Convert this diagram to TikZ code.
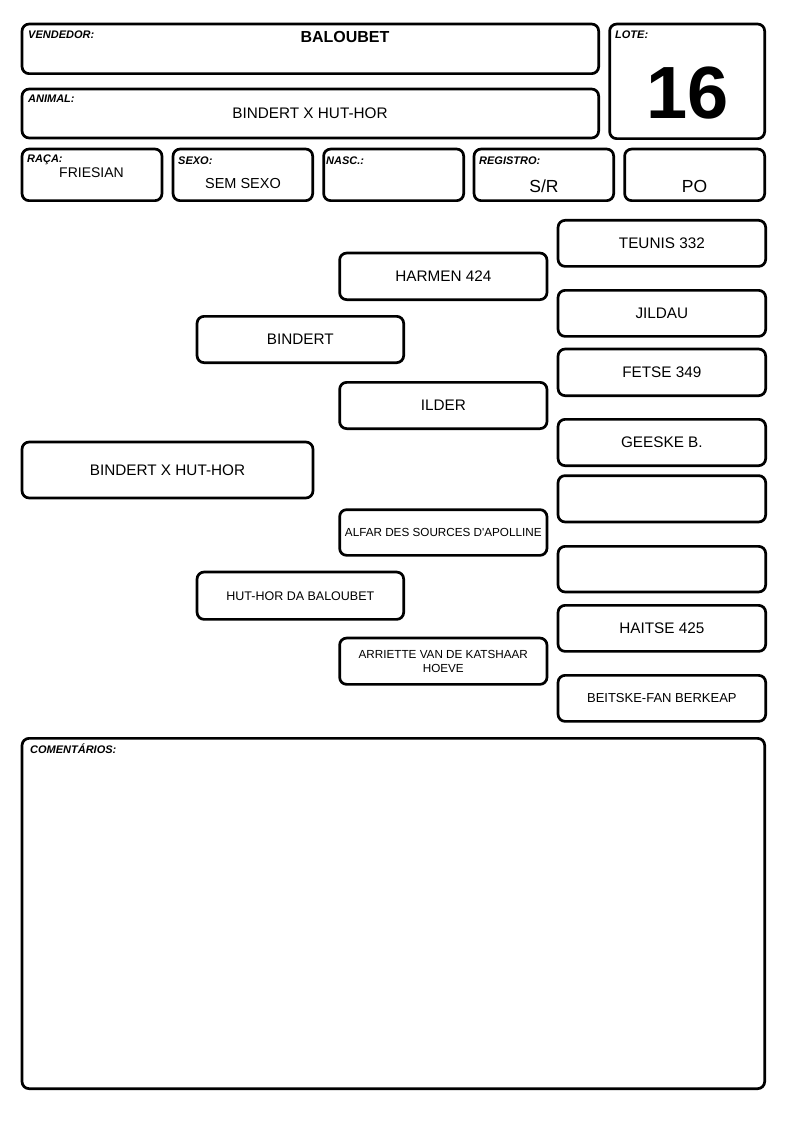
\documentclass[tikz,border=0pt]{standalone}
\usepackage{fontspec}
\setmainfont{Liberation Sans}[Ligatures=TeXOff]
\newcommand{\fsz}[2]{\fontsize{#1}{#2}\selectfont}
\newcommand{\bx}[7][]{%
  \pgfmathsetmacro\bxcx{(#3+#5)/2}%
  \pgfmathsetmacro\bxcy{(#4+#6)/2}%
  \pgfmathsetmacro\bxw{#5-#3-2.7}%
  \pgfmathsetmacro\bxh{#6-#4-2.7}%
  \node[box, #1, minimum width=\bxw pt, minimum height=\bxh pt] (#2) at (\bxcx,\bxcy) {#7};}
\begin{document}
\begin{tikzpicture}[x=1pt,y=-1pt,
  box/.style={draw=black, line width=2.7pt, rounded corners=7pt, inner sep=0pt, align=center, font=\fsz{15.3}{17}},
  lbl/.style={anchor=base west, inner sep=0pt, font=\fsz{11}{12}\bfseries\itshape},
  val/.style={anchor=base, inner sep=0pt}]
\useasboundingbox (0,0) rectangle (794,1123);
% header
\bx{vend}{20.7}{22.7}{600}{75}{}
\bx{anim}{20.7}{87.7}{600}{139.3}{}
\bx{lote}{608.3}{22.7}{766}{140}{}
\bx{raca}{20.7}{147.7}{163.3}{202}{}
\bx{sexo}{171.7}{147.7}{314}{202}{}
\bx{nasc}{322.3}{147.7}{465}{202}{}
\bx{reg}{472.7}{147.7}{615}{202}{}
\bx{po}{623.3}{147.7}{766}{202}{}
\node[lbl] (lvend) at (28,39) {VENDEDOR:};
\node[lbl] (lanim) at (28,103) {ANIMAL:};
\node[lbl] (llote) at (615,39) {LOTE:};
\node[lbl] (lraca) at (27,162.5) {RAÇA:};
\node[lbl] (lsexo) at (178,165) {SEXO:};
\node[lbl] (lnasc) at (326,165) {NASC.:};
\node[lbl] (lreg) at (479,165) {REGISTRO:};
\node[val, font=\fsz{16}{18}\bfseries] (tvend) at (345,42.7) {BALOUBET};
\node[val, font=\fsz{15.3}{17}] (tanim) at (310,119) {BINDERT X HUT-HOR};
\node[val, font=\fsz{74}{80}\bfseries] (tlote) at (688,119) {16};
\node[val, font=\fsz{14}{16}] (traca) at (91.5,178) {FRIESIAN};
\node[val, font=\fsz{14.5}{16}] (tsexo) at (243,189) {SEM SEXO};
\node[val, font=\fsz{17.5}{19}] (treg) at (544,193) {S/R};
\node[val, font=\fsz{17.5}{19}] (tpo) at (694.5,193) {PO};
% pedigree
\bx{g1}{20.7}{440.7}{314.3}{499.3}{BINDERT X HUT-HOR}
\bx{p1}{195.7}{315}{405}{364}{BINDERT}
\bx[font=\fsz{12.5}{14}]{p2}{195.7}{570.7}{405}{620.7}{HUT-HOR DA BALOUBET}
\bx{q1}{338.3}{251.7}{548.3}{301}{HARMEN 424}
\bx{q2}{338.3}{381}{548.3}{430}{ILDER}
\bx[font=\fsz{11.7}{14}]{q3}{338.3}{508.3}{548.3}{556.7}{ALFAR DES SOURCES D'APOLLINE}
\bx[font=\fsz{11.7}{14}]{q4}{338.3}{636.7}{548.3}{685.7}{ARRIETTE VAN DE KATSHAAR\\HOEVE}
\bx{r1}{556.7}{219}{767}{267.7}{TEUNIS 332}
\bx{r2}{556.7}{289}{767}{337.7}{JILDAU}
\bx{r3}{556.7}{347.7}{767}{397}{FETSE 349}
\bx{r4}{556.7}{418}{767}{467}{GEESKE B.}
\bx{r5}{556.7}{474.3}{767}{523.3}{}
\bx{r6}{556.7}{545}{767}{593.3}{}
\bx{r7}{556.7}{604}{767}{652.7}{HAITSE 425}
\bx[font=\fsz{13}{15}]{r8}{556.7}{674}{767}{722.7}{BEITSKE-FAN BERKEAP}
% comments
\bx{com}{20.7}{737}{766}{1090}{}
\node[lbl] (lcom) at (30,753) {COMENTÁRIOS:};
\end{tikzpicture}
\end{document}
